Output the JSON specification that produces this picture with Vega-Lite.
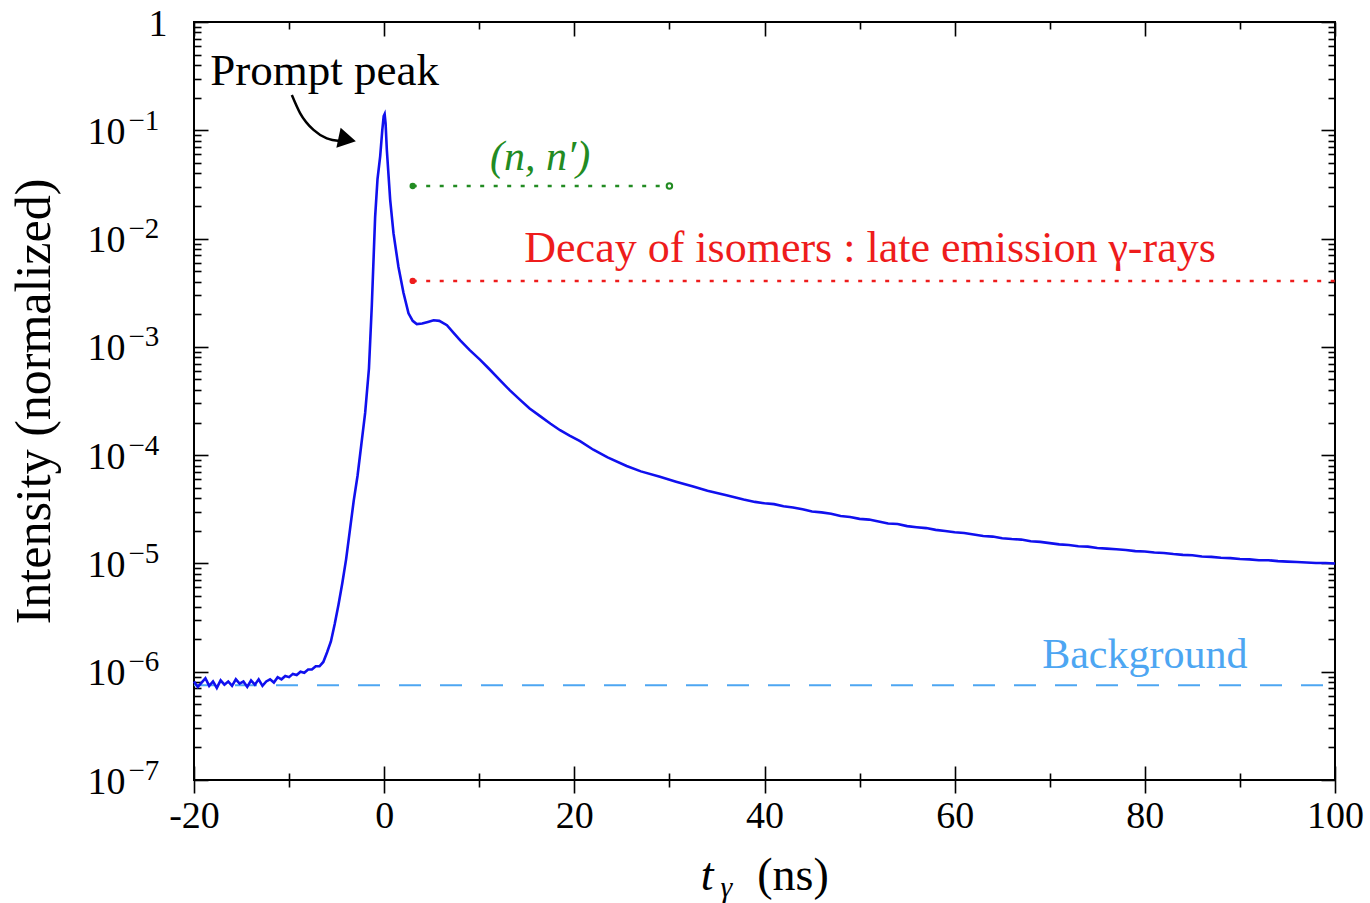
{
  "$schema": "https://vega.github.io/schema/vega-lite/v6.json",
  "width": 1141,
  "height": 758,
  "autosize": {"type": "none"},
  "padding": {"left": 194, "top": 22, "right": 35, "bottom": 123},
  "background": "white",
  "config": {
    "view": {"stroke": "black", "strokeWidth": 2},
    "font": "Liberation Serif",
    "axis": {"labelFont": "Liberation Serif", "titleFont": "Liberation Serif", "labelColor": "black", "titleColor": "black", "tickColor": "black", "tickWidth": 1.6, "domain": false, "grid": false, "labelOverlap": false, "labelFlush": false, "titleFontWeight": "normal"}
  },
  "datasets": {
    "curve": [
      {"t": -20.0, "v": 8.13e-7}, {"t": -19.6, "v": 7.24e-7}, {"t": -19.2, "v": 7.94e-7}, {"t": -18.8, "v": 8.71e-7}, {"t": -18.4, "v": 7.41e-7},
      {"t": -18.0, "v": 8.13e-7}, {"t": -17.6, "v": 7.08e-7}, {"t": -17.2, "v": 8.32e-7}, {"t": -16.8, "v": 7.59e-7}, {"t": -16.4, "v": 8.13e-7},
      {"t": -16.0, "v": 7.41e-7}, {"t": -15.6, "v": 8.51e-7}, {"t": -15.2, "v": 7.76e-7}, {"t": -14.8, "v": 8.13e-7}, {"t": -14.4, "v": 7.24e-7},
      {"t": -14.0, "v": 8.32e-7}, {"t": -13.6, "v": 7.59e-7}, {"t": -13.2, "v": 8.51e-7}, {"t": -12.8, "v": 7.41e-7}, {"t": -12.4, "v": 8.13e-7},
      {"t": -12.0, "v": 8.51e-7}, {"t": -11.6, "v": 7.94e-7}, {"t": -11.2, "v": 8.91e-7}, {"t": -10.8, "v": 8.51e-7}, {"t": -10.4, "v": 9.12e-7},
      {"t": -10.0, "v": 8.91e-7}, {"t": -9.6, "v": 9.55e-7}, {"t": -9.2, "v": 9.33e-7}, {"t": -8.8, "v": 1.0e-6}, {"t": -8.4, "v": 9.77e-7},
      {"t": -8.0, "v": 1.047e-6}, {"t": -7.6, "v": 1.047e-6}, {"t": -7.2, "v": 1.122e-6}, {"t": -6.8, "v": 1.122e-6}, {"t": -6.4, "v": 1.23e-6},
      {"t": -6.0, "v": 1.514e-6}, {"t": -5.6, "v": 1.905e-6}, {"t": -5.2, "v": 2.754e-6}, {"t": -4.8, "v": 4.169e-6}, {"t": -4.4, "v": 6.607e-6},
      {"t": -4.0, "v": 1.096e-5}, {"t": -3.6, "v": 2.042e-5}, {"t": -3.2, "v": 3.802e-5}, {"t": -2.8, "v": 6.457e-5}, {"t": -2.4, "v": 1.259e-4},
      {"t": -2.0, "v": 2.455e-4}, {"t": -1.6, "v": 6.31e-4}, {"t": -1.3, "v": 2.399e-3}, {"t": -0.95, "v": 1.585e-2}, {"t": -0.7, "v": 3.548e-2},
      {"t": -0.42, "v": 5.754e-2}, {"t": -0.2, "v": 0.1}, {"t": -0.05, "v": 0.135}, {"t": 0.05, "v": 0.141}, {"t": 0.15, "v": 0.115},
      {"t": 0.28, "v": 0.0661}, {"t": 0.63, "v": 0.02291}, {"t": 0.98, "v": 0.01122}, {"t": 1.5, "v": 5.495e-3}, {"t": 2.03, "v": 3.162e-3},
      {"t": 2.56, "v": 2.042e-3}, {"t": 3.0, "v": 1.738e-3}, {"t": 3.43, "v": 1.622e-3}, {"t": 4.0, "v": 1.641e-3}, {"t": 4.6, "v": 1.698e-3},
      {"t": 5.2, "v": 1.758e-3}, {"t": 5.8, "v": 1.738e-3}, {"t": 6.6, "v": 1.585e-3}, {"t": 7.3, "v": 1.349e-3}, {"t": 8.0, "v": 1.148e-3},
      {"t": 9.0, "v": 9.33e-4}, {"t": 10.1, "v": 7.59e-4}, {"t": 11.0, "v": 6.31e-4}, {"t": 12.2, "v": 4.898e-4}, {"t": 13.2, "v": 3.981e-4},
      {"t": 14.3, "v": 3.236e-4}, {"t": 15.3, "v": 2.692e-4}, {"t": 16.4, "v": 2.291e-4}, {"t": 17.5, "v": 1.95e-4}, {"t": 18.5, "v": 1.698e-4},
      {"t": 19.5, "v": 1.514e-4}, {"t": 20.6, "v": 1.349e-4}, {"t": 22.0, "v": 1.122e-4}, {"t": 23.5, "v": 9.55e-5}, {"t": 25.5, "v": 7.94e-5},
      {"t": 27.0, "v": 7.08e-5}, {"t": 29.0, "v": 6.31e-5}, {"t": 30.7, "v": 5.69e-5}, {"t": 32.5, "v": 5.13e-5}, {"t": 34.0, "v": 4.68e-5},
      {"t": 36.0, "v": 4.27e-5}, {"t": 37.8, "v": 3.89e-5}, {"t": 39.0, "v": 3.7e-5}, {"t": 40, "v": 3.59e-5}, {"t": 41, "v": 3.53e-5},
      {"t": 42, "v": 3.37e-5}, {"t": 43, "v": 3.29e-5}, {"t": 44, "v": 3.16e-5}, {"t": 45, "v": 3.02e-5}, {"t": 46, "v": 2.96e-5},
      {"t": 47, "v": 2.88e-5}, {"t": 48, "v": 2.74e-5}, {"t": 49, "v": 2.68e-5}, {"t": 50, "v": 2.58e-5}, {"t": 51, "v": 2.54e-5},
      {"t": 52, "v": 2.44e-5}, {"t": 53, "v": 2.34e-5}, {"t": 54, "v": 2.31e-5}, {"t": 55, "v": 2.21e-5}, {"t": 56, "v": 2.16e-5},
      {"t": 57, "v": 2.12e-5}, {"t": 58, "v": 2.04e-5}, {"t": 59, "v": 1.99e-5}, {"t": 60, "v": 1.94e-5}, {"t": 61, "v": 1.91e-5},
      {"t": 62, "v": 1.85e-5}, {"t": 63, "v": 1.79e-5}, {"t": 64, "v": 1.77e-5}, {"t": 65, "v": 1.71e-5}, {"t": 66, "v": 1.68e-5},
      {"t": 67, "v": 1.66e-5}, {"t": 68, "v": 1.6e-5}, {"t": 69, "v": 1.58e-5}, {"t": 70, "v": 1.54e-5}, {"t": 71, "v": 1.5e-5},
      {"t": 72, "v": 1.48e-5}, {"t": 73, "v": 1.44e-5}, {"t": 74, "v": 1.43e-5}, {"t": 75, "v": 1.39e-5}, {"t": 76, "v": 1.37e-5},
      {"t": 77, "v": 1.35e-5}, {"t": 78, "v": 1.33e-5}, {"t": 79, "v": 1.3e-5}, {"t": 80, "v": 1.29e-5}, {"t": 81, "v": 1.26e-5},
      {"t": 82, "v": 1.25e-5}, {"t": 83, "v": 1.22e-5}, {"t": 84, "v": 1.2e-5}, {"t": 85, "v": 1.19e-5}, {"t": 86, "v": 1.16e-5},
      {"t": 87, "v": 1.15e-5}, {"t": 88, "v": 1.13e-5}, {"t": 89, "v": 1.12e-5}, {"t": 90, "v": 1.1e-5}, {"t": 91, "v": 1.09e-5},
      {"t": 92, "v": 1.07e-5}, {"t": 93, "v": 1.07e-5}, {"t": 94, "v": 1.05e-5}, {"t": 95, "v": 1.04e-5}, {"t": 96, "v": 1.03e-5},
      {"t": 97, "v": 1.02e-5}, {"t": 98, "v": 1.01e-5}, {"t": 99, "v": 1.01e-5}, {"t": 100, "v": 1.0e-5}
    ],
    "guides": [
      {"series": "bg", "t": -20, "v": 7.5e-7}, {"series": "bg", "t": 100, "v": 7.5e-7},
      {"series": "nn", "t": 3, "v": 0.0306}, {"series": "nn", "t": 30, "v": 0.0306},
      {"series": "iso", "t": 3, "v": 0.00406}, {"series": "iso", "t": 100, "v": 0.00406}
    ],
    "arrow": [
      {"t": -9.71, "v": 0.212}, {"t": -8.83, "v": 0.1435}, {"t": -7.43, "v": 0.1007}, {"t": -6.03, "v": 0.0843}, {"t": -4.63, "v": 0.0796}
    ]
  },
  "layer": [
    {
      "data": {"name": "guides"},
      "transform": [{"filter": "datum.series == 'bg'"}],
      "mark": {"type": "line", "color": "#4da6f2", "strokeWidth": 2, "strokeDash": [22, 19]},
      "encoding": {
        "x": {"field": "t", "type": "quantitative", "scale": {"domain": [-20, 100], "nice": false, "zero": false},
              "axis": {"orient": "top", "values": [-20, -10, 0, 10, 20, 30, 40, 50, 60, 70, 80, 90, 100], "labels": false, "title": null,
                       "tickSize": {"condition": {"test": "datum.value % 20 == 0", "value": -14}, "value": -7}}},
        "y": {"field": "v", "type": "quantitative", "scale": {"type": "log", "domain": [1e-7, 1], "nice": false},
              "axis": {"orient": "right", "labels": false, "title": null,
                       "values": [1e-7,2e-7,3e-7,4e-7,5e-7,6e-7,7e-7,8e-7,9e-7,1e-6,2e-6,3e-6,4e-6,5e-6,6e-6,7e-6,8e-6,9e-6,1e-5,2e-5,3e-5,4e-5,5e-5,6e-5,7e-5,8e-5,9e-5,1e-4,2e-4,3e-4,4e-4,5e-4,6e-4,7e-4,8e-4,9e-4,0.001,0.002,0.003,0.004,0.005,0.006,0.007,0.008,0.009,0.01,0.02,0.03,0.04,0.05,0.06,0.07,0.08,0.09,0.1,0.2,0.3,0.4,0.5,0.6,0.7,0.8,0.9,1],
                       "tickSize": {"condition": {"test": "abs(log(datum.value)/LN10 - round(log(datum.value)/LN10)) < 0.001", "value": -14}, "value": -7}}}
      }
    },
    {
      "data": {"name": "guides"},
      "transform": [{"filter": "datum.series == 'nn'"}],
      "mark": {"type": "line", "color": "#228b22", "strokeWidth": 2.5, "strokeDash": [4, 9.5]},
      "encoding": {
        "x": {"field": "t", "type": "quantitative", "scale": {"domain": [-20, 100], "nice": false, "zero": false},
              "axis": {"orient": "bottom", "values": [-20, -10, 0, 10, 20, 30, 40, 50, 60, 70, 80, 90, 100], "labels": false, "title": null,
                       "tickSize": {"condition": {"test": "datum.value % 20 == 0", "value": 13}, "value": 7}}},
        "y": {"field": "v", "type": "quantitative", "scale": {"type": "log", "domain": [1e-7, 1], "nice": false}, "axis": null}
      }
    },
    {
      "data": {"name": "guides"},
      "transform": [{"filter": "datum.series == 'iso'"}],
      "mark": {"type": "line", "color": "#ee1c1c", "strokeWidth": 2.5, "strokeDash": [4, 9.5]},
      "encoding": {
        "x": {"field": "t", "type": "quantitative", "scale": {"domain": [-20, 100], "nice": false, "zero": false}, "axis": null},
        "y": {"field": "v", "type": "quantitative", "scale": {"type": "log", "domain": [1e-7, 1], "nice": false},
              "axis": {"orient": "left", "title": null, "ticks": false, "values": [1e-7, 1e-6, 1e-5, 1e-4, 0.001, 0.01, 0.1],
                       "labelExpr": "['','−1','−2','−3','−4','−5','−6','−7'][round(-log(datum.value)/LN10)]",
                       "labelAlign": "left", "labelBaseline": "middle", "labelPadding": 66, "labelFontSize": 29, "labelOffset": -10}}
      }
    },
    {
      "data": {"name": "guides"},
      "transform": [{"filter": "datum.t == 3"}],
      "mark": {"type": "point", "filled": true, "size": 40, "opacity": 1},
      "encoding": {
        "x": {"field": "t", "type": "quantitative", "scale": {"domain": [-20, 100], "nice": false, "zero": false}, "axis": null},
        "y": {"field": "v", "type": "quantitative", "scale": {"type": "log", "domain": [1e-7, 1], "nice": false}, "axis": null},
        "color": {"field": "series", "type": "nominal", "scale": {"domain": ["nn", "iso"], "range": ["#228b22", "#ee1c1c"]}, "legend": null}
      }
    },
    {
      "data": {"name": "guides"},
      "transform": [{"filter": "datum.series == 'nn' && datum.t == 30"}],
      "mark": {"type": "point", "filled": false, "size": 30, "strokeWidth": 2, "color": "#228b22", "fill": "white", "opacity": 1},
      "encoding": {
        "x": {"field": "t", "type": "quantitative", "scale": {"domain": [-20, 100], "nice": false, "zero": false}, "axis": null},
        "y": {"field": "v", "type": "quantitative", "scale": {"type": "log", "domain": [1e-7, 1], "nice": false}, "axis": null}
      }
    },
    {
      "data": {"name": "curve"},
      "mark": {"type": "line", "color": "#1010ee", "strokeWidth": 2.6},
      "encoding": {
        "x": {"field": "t", "type": "quantitative", "scale": {"domain": [-20, 100], "nice": false, "zero": false},
              "axis": {"orient": "bottom", "title": null, "values": [-20, -10, 0, 10, 20, 30, 40, 50, 60, 70, 80, 90, 100],
                       "labelExpr": "datum.value % 20 == 0 ? '' + datum.value : ''", "labelFontSize": 38, "labelPadding": 31,
                       "tickSize": {"condition": {"test": "datum.value % 20 == 0", "value": -14}, "value": -7}}},
        "y": {"field": "v", "type": "quantitative", "scale": {"type": "log", "domain": [1e-7, 1], "nice": false},
              "axis": {"orient": "left", "title": "Intensity (normalized)", "titleFontSize": 50, "titlePadding": 28,
                       "values": [1e-7,2e-7,3e-7,4e-7,5e-7,6e-7,7e-7,8e-7,9e-7,1e-6,2e-6,3e-6,4e-6,5e-6,6e-6,7e-6,8e-6,9e-6,1e-5,2e-5,3e-5,4e-5,5e-5,6e-5,7e-5,8e-5,9e-5,1e-4,2e-4,3e-4,4e-4,5e-4,6e-4,7e-4,8e-4,9e-4,0.001,0.002,0.003,0.004,0.005,0.006,0.007,0.008,0.009,0.01,0.02,0.03,0.04,0.05,0.06,0.07,0.08,0.09,0.1,0.2,0.3,0.4,0.5,0.6,0.7,0.8,0.9,1],
                       "labelExpr": "abs(log(datum.value)/LN10 - round(log(datum.value)/LN10)) < 0.001 ? (datum.value > 0.5 ? '1' : '10') : ''",
                       "labelFontSize": 38, "labelBaseline": "middle", "labelOffset": 2,
                       "labelPadding": {"condition": {"test": "datum.value > 0.5", "value": 41}, "value": 83},
                       "tickSize": {"condition": {"test": "abs(log(datum.value)/LN10 - round(log(datum.value)/LN10)) < 0.001", "value": -14}, "value": -7}}}
      }
    },
    {
      "data": {"name": "arrow"},
      "mark": {"type": "line", "color": "black", "strokeWidth": 2.5, "interpolate": "monotone"},
      "encoding": {
        "x": {"field": "t", "type": "quantitative", "scale": {"domain": [-20, 100], "nice": false, "zero": false}, "axis": null},
        "y": {"field": "v", "type": "quantitative", "scale": {"type": "log", "domain": [1e-7, 1], "nice": false}, "axis": null}
      }
    },
    {
      "data": {"values": [{"t": -3.89, "v": 0.0822}]},
      "mark": {"type": "point", "shape": "triangle-right", "filled": true, "color": "black", "size": 420, "angle": 12, "opacity": 1},
      "encoding": {
        "x": {"field": "t", "type": "quantitative", "scale": {"domain": [-20, 100], "nice": false, "zero": false}, "axis": null},
        "y": {"field": "v", "type": "quantitative", "scale": {"type": "log", "domain": [1e-7, 1], "nice": false}, "axis": null}
      }
    },
    {
      "data": {"values": [{"label": "Prompt peak", "t": -18.3, "v": 0.262}]},
      "mark": {"type": "text", "align": "left", "baseline": "alphabetic", "fontSize": 45, "font": "Liberation Serif", "color": "black"},
      "encoding": {
        "x": {"field": "t", "type": "quantitative", "scale": {"domain": [-20, 100], "nice": false, "zero": false}, "axis": null},
        "y": {"field": "v", "type": "quantitative", "scale": {"type": "log", "domain": [1e-7, 1], "nice": false}, "axis": null},
        "text": {"field": "label"}
      }
    },
    {
      "data": {"values": [{"label": "(n, n′)", "t": 16.4, "v": 0.0566}]},
      "mark": {"type": "text", "align": "center", "baseline": "middle", "fontSize": 42, "fontStyle": "italic", "font": "Liberation Serif", "color": "#228b22"},
      "encoding": {
        "x": {"field": "t", "type": "quantitative", "scale": {"domain": [-20, 100], "nice": false, "zero": false}, "axis": null},
        "y": {"field": "v", "type": "quantitative", "scale": {"type": "log", "domain": [1e-7, 1], "nice": false}, "axis": null},
        "text": {"field": "label"}
      }
    },
    {
      "data": {"values": [{"label": "Decay of isomers : late emission γ-rays", "t": 51.1, "v": 0.008}]},
      "mark": {"type": "text", "align": "center", "baseline": "middle", "fontSize": 44, "font": "Liberation Serif", "color": "#ee1c1c"},
      "encoding": {
        "x": {"field": "t", "type": "quantitative", "scale": {"domain": [-20, 100], "nice": false, "zero": false}, "axis": null},
        "y": {"field": "v", "type": "quantitative", "scale": {"type": "log", "domain": [1e-7, 1], "nice": false}, "axis": null},
        "text": {"field": "label"}
      }
    },
    {
      "data": {"values": [{"label": "Background", "t": 80.0, "v": 1.43e-6}]},
      "mark": {"type": "text", "align": "center", "baseline": "middle", "fontSize": 42, "font": "Liberation Serif", "color": "#4da6f2"},
      "encoding": {
        "x": {"field": "t", "type": "quantitative", "scale": {"domain": [-20, 100], "nice": false, "zero": false}, "axis": null},
        "y": {"field": "v", "type": "quantitative", "scale": {"type": "log", "domain": [1e-7, 1], "nice": false}, "axis": null},
        "text": {"field": "label"}
      }
    },
    {
      "data": {"values": [
        {"label": "t", "t": 33.96, "v": 9.66e-9, "size": 46},
        {"label": "γ", "t": 36.0, "v": 8.3e-9, "size": 30}
      ]},
      "mark": {"type": "text", "align": "center", "baseline": "alphabetic", "fontStyle": "italic", "font": "Liberation Serif", "color": "black"},
      "encoding": {
        "x": {"field": "t", "type": "quantitative", "scale": {"domain": [-20, 100], "nice": false, "zero": false}, "axis": null},
        "y": {"field": "v", "type": "quantitative", "scale": {"type": "log", "domain": [1e-7, 1], "nice": false}, "axis": null},
        "size": {"field": "size", "type": "quantitative", "scale": null, "legend": null},
        "text": {"field": "label"}
      }
    },
    {
      "data": {"values": [{"label": "(ns)", "t": 43.0, "v": 9.66e-9}]},
      "mark": {"type": "text", "align": "center", "baseline": "alphabetic", "fontSize": 46, "font": "Liberation Serif", "color": "black"},
      "encoding": {
        "x": {"field": "t", "type": "quantitative", "scale": {"domain": [-20, 100], "nice": false, "zero": false}, "axis": null},
        "y": {"field": "v", "type": "quantitative", "scale": {"type": "log", "domain": [1e-7, 1], "nice": false}, "axis": null},
        "text": {"field": "label"}
      }
    }
  ],
  "resolve": {"axis": {"x": "independent", "y": "independent"}}
}
